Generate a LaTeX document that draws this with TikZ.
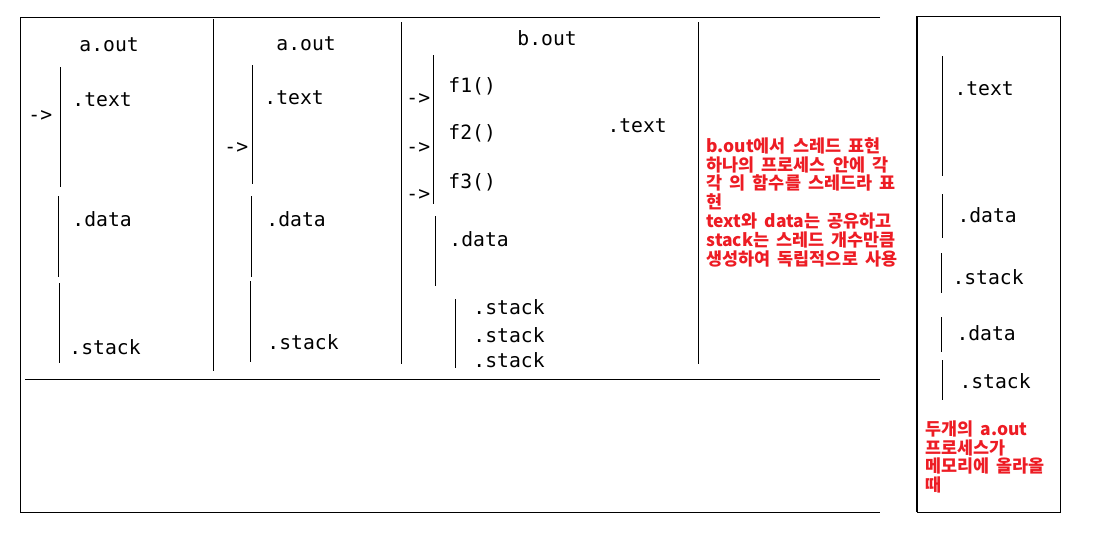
\documentclass[tikz,border=0pt]{standalone}
\usepackage{fontspec}
\setmonofont{DejaVu Sans Mono}
\newfontfamily\krfont[WordSpace=1.8]{Noto Sans CJK KR}
\definecolor{paintred}{RGB}{237,28,36}
\begin{document}
\begin{tikzpicture}[x=0.025cm,y=-0.025cm,line width=0.7pt]
  \tikzstyle{every node}=[anchor=west,inner sep=0pt,text height=9.8pt,text depth=0pt,font=\ttfamily\fontsize{14}{16}\selectfont]
  \tikzstyle{note}=[anchor=north west,align=left,text height=,text depth=,text=paintred,font=\krfont\bfseries\fontsize{12.4}{13.4}\selectfont]
  \useasboundingbox (0,0) rectangle (1104,540);
  % outer frames
  \draw (880,17) -- (20,17) -- (20,512) -- (880,512);
  \draw (25,379) -- (880,379);
  \draw (213,19) -- (213,371);
  \draw (401,22) -- (401,364);
  \draw (698,22) -- (698,364);
  \draw (1060,16) -- (917,16) -- (917,512) -- (1060,512) -- cycle;
  \draw [line width=1.2pt] (917,16) -- (917,512);
  % first a.out
  \node (a1) at (79,45) {a.out};
  \node (a1t) at (72,100) {.text};
  \node (a1d) at (72,220) {.data};
  \node (a1s) at (69,348) {.stack};
  \node (a1p) at (28,115) {->};
  \draw (60,67) -- (60,187);
  \draw (58,196) -- (58,277);
  \draw (59,283) -- (59,363);
  % second a.out
  \node (a2) at (276,44) {a.out};
  \node (a2t) at (264,98) {.text};
  \node (a2d) at (266,220) {.data};
  \node (a2s) at (267,343) {.stack};
  \node (a2p) at (224,147) {->};
  \draw (252,65) -- (252,184);
  \draw (251,196) -- (251,277);
  \draw (250,281) -- (250,362);
  % b.out with threads
  \node (b) at (517,39) {b.out};
  \node (f1) at (448,86) {f1()};
  \node (f2) at (448,133) {f2()};
  \node (f3) at (448,182) {f3()};
  \node (p1) at (406,98) {->};
  \node (p2) at (406,147) {->};
  \node (p3) at (406,194) {->};
  \node (bt) at (607,126) {.text};
  \node (bd) at (449,240) {.data};
  \node (bs1) at (473,308) {.stack};
  \node (bs2) at (473,336) {.stack};
  \node (bs3) at (473,361) {.stack};
  \draw (433,55) -- (433,204);
  \draw (435,216) -- (435,286);
  \draw (455,299) -- (455,368);
  \node [note] (bnote) at (706,137) {b.out에서 스레드 표현\\하나의 프로세스 안에 각\\각 의 함수를 스레드라 표\\현\\text와 data는 공유하고\\stack는 스레드 개수만큼\\생성하여 독립적으로 사용};
  % two a.out in memory
  \node (mt) at (954,89) {.text};
  \node (md1) at (957,216) {.data};
  \node (ms1) at (952,278) {.stack};
  \node (md2) at (956,334) {.data};
  \node (ms2) at (959,382) {.stack};
  \draw (942,56) -- (942,176);
  \draw (942,194) -- (942,238);
  \draw (941,253) -- (941,293);
  \draw (941,317) -- (941,352);
  \draw (942,360) -- (942,400);
  \node [note] (mnote) at (925,420) {두개의 a.out\\프로세스가\\메모리에 올라올\\때};
\end{tikzpicture}
\end{document}
